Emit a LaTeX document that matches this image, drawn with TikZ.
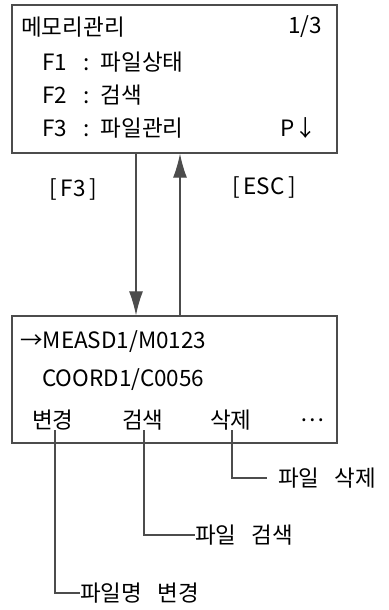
\documentclass[tikz,border=0pt]{standalone}
\usepackage{fontspec}
\setmainfont{Noto Sans CJK KR}
\usetikzlibrary{positioning,arrows.meta}
\tikzset{
  screen/.style={draw=black!70, line width=0.9pt, minimum width=8.125cm, inner sep=0pt},
  txt/.style={anchor=west, inner sep=0pt, font=\fontsize{16}{19}\selectfont},
  keyarr/.style={draw=black!70, line width=0.9pt, -{Latex[length=6mm,width=3.5mm]}},
  lead/.style={draw=black!70, line width=0.9pt}
}
\newcommand{\fkey}[2]{#1\hspace{0.4cm}:\hspace{0.28cm}#2}
\newcommand{\wsp}{\hspace{0.38cm}}
\begin{document}
\begin{tikzpicture}[x=0.025cm,y=-0.025cm]
  \useasboundingbox (0,0) rectangle (388,610);

  % --- MEMORY MANAGEMENT SCREEN ---
  \node[screen, minimum height=3.7cm] (menu) at (174.5,79) {};
  \node[txt] (title) at (21,27) {메모리관리};
  \node[txt] (page) at (288,27) {1/3};
  \node[txt] (fone) at (42,62) {\fkey{F1}{파일상태}};
  \node[txt] (ftwo) at (42,95) {\fkey{F2}{검색}};
  \node[txt] (fthree) at (42,128) {\fkey{F3}{파일관리}};
  \node[txt] (pdown) at (280,128) {P↓};

  % --- FILE SCREEN ---
  \node[screen, minimum height=3.175cm] (files) at (174.5,379.5) {};
  \node[txt] (meas) at (20,342) {→MEASD1/M0123};
  \node[txt] (coord) at (42,380) {COORD1/C0056};
  \node[txt] (chg) at (32,420) {변경};
  \node[txt] (srch) at (122,420) {검색};
  \node[txt] (del) at (210,420) {삭제};
  \node[txt] (more) at (300,420) {⋯};

  % Key arrows between the screens
  \coordinate (keyf) at (136,0);
  \coordinate (keyesc) at (180,0);
  \draw[keyarr] (menu.south -| keyf) -- (files.north -| keyf);
  \draw[keyarr] (files.north -| keyesc) -- (menu.south -| keyesc);
  \node[txt] (pressf) at (49,190) {[\,F3\,]};
  \node[txt] (pressesc) at (232,188) {[\,ESC\,]};

  % Soft key explanations
  \node[txt] (rename) at (80,593) {파일명\wsp 변경};
  \node[txt] (findfile) at (195,535) {파일\wsp 검색};
  \node[txt] (delfile) at (278,478) {파일\wsp 삭제};
  \draw[lead] (chg.south -| 55,0) |- (rename.west);
  \draw[lead] (srch.south -| 144,0) |- (findfile.west);
  \draw[lead] (del.south -| 232,0) |- ([xshift=-0.28cm]delfile.west);
\end{tikzpicture}
\end{document}
